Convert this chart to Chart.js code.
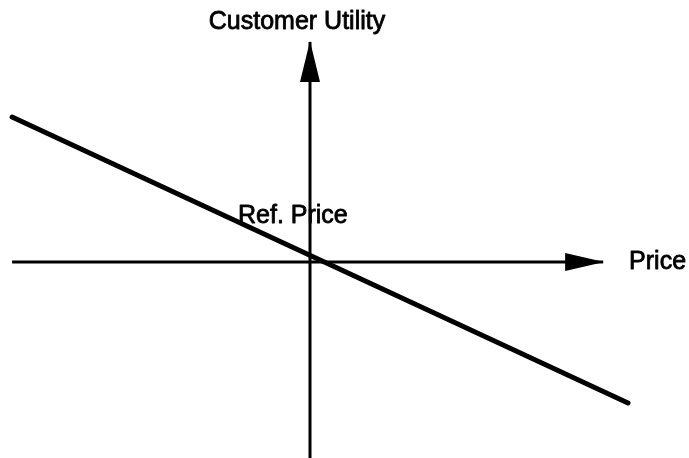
<!DOCTYPE html>
<html>
<head>
<meta charset="utf-8">
<script src="https://cdn.jsdelivr.net/npm/chart.js@4"></script>
<style>
  html, body { margin: 0; padding: 0; background: #ffffff; }
  #wrap { width: 689px; height: 458px; }
</style>
</head>
<body>
<div id="wrap"><canvas id="c" width="689" height="458"></canvas></div>
<script>
// Data (conceptual units: price relative to reference price, customer utility)
const utilityLineX = [-9.93, 10.6];
const utilityLineY = [4.83, -4.7];
const priceAxisX = [-9.93, 9.77];     // horizontal axis extent (arrow tip at right)
const utilityAxisY = [-6.53, 7.33];   // vertical axis extent (arrow tip at top)
const labels = {
  yTitle: 'Customer Utility',
  xTitle: 'Price',
  ref: 'Ref. Price'
};

const FONT = '25px "Liberation Sans", Arial, Helvetica, sans-serif';

const annot = {
  id: 'annot',
  afterDatasetsDraw(chart) {
    const ctx = chart.ctx;
    const xs = chart.scales.x, ys = chart.scales.y;
    const ox = xs.getPixelForValue(0), oy = ys.getPixelForValue(0);
    ctx.save();
    ctx.fillStyle = '#000';
    // right arrowhead
    const tx = xs.getPixelForValue(priceAxisX[1]);
    ctx.beginPath();
    ctx.moveTo(tx + 1, oy);
    ctx.lineTo(tx - 38, oy - 9);
    ctx.lineTo(tx - 38, oy + 9);
    ctx.closePath();
    ctx.fill();
    // top arrowhead
    const ty = ys.getPixelForValue(utilityAxisY[1]);
    ctx.beginPath();
    ctx.moveTo(ox, ty - 1);
    ctx.lineTo(ox - 10, ty + 40);
    ctx.lineTo(ox + 10, ty + 40);
    ctx.closePath();
    ctx.fill();
    // texts (slightly emboldened like the scanned original)
    ctx.font = FONT;
    ctx.strokeStyle = '#000';
    ctx.lineWidth = 0.8;
    ctx.lineJoin = 'round';
    ctx.textBaseline = 'alphabetic';
    const put = (t, x, y) => { ctx.fillText(t, x, y); ctx.strokeText(t, x, y); };
    ctx.textAlign = 'center';
    put(labels.yTitle, ox - 13, ty - 13);
    ctx.textAlign = 'left';
    put(labels.xTitle, tx + 26, oy + 7);
    put(labels.ref, ox - 72, oy - 39);
    ctx.restore();
  }
};

new Chart(document.getElementById('c'), {
  type: 'scatter',
  data: {
    datasets: [
      {
        data: priceAxisX.map(v => ({ x: v, y: 0 })),
        showLine: true, borderColor: '#000', borderWidth: 3,
        pointRadius: 0, borderCapStyle: 'butt'
      },
      {
        data: utilityAxisY.map(v => ({ x: 0, y: v })),
        showLine: true, borderColor: '#000', borderWidth: 3,
        pointRadius: 0, borderCapStyle: 'butt'
      },
      {
        data: utilityLineX.map((v, i) => ({ x: v, y: utilityLineY[i] })),
        showLine: true, borderColor: '#000', borderWidth: 5,
        pointRadius: 0, borderCapStyle: 'round'
      }
    ]
  },
  options: {
    responsive: false,
    animation: false,
    layout: { padding: 0 },
    plugins: { legend: { display: false }, tooltip: { enabled: false } },
    scales: {
      x: { type: 'linear', display: false, min: -10.333, max: 12.633 },
      y: { type: 'linear', display: false, min: -6.533, max: 8.733 }
    }
  },
  plugins: [annot]
});
</script>
</body>
</html>
